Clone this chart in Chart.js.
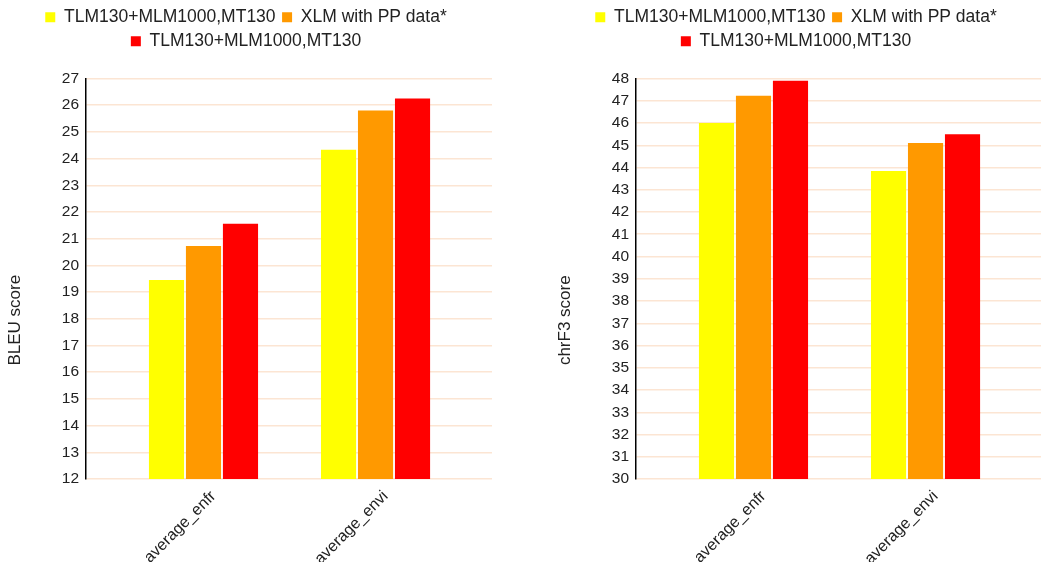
<!DOCTYPE html>
<html>
<head>
<meta charset="utf-8">
<script src="https://cdn.jsdelivr.net/npm/chart.js@4"></script>
<style>
  html, body { margin: 0; padding: 0; background: #fff; overflow: hidden; width: 1041px; height: 562px; }
  .panel { position: absolute; top: 0; width: 500px; height: 562px; }
  #p1 { left: 0; }
  #p2 { left: 550px; }
</style>
</head>
<body>
<div class="panel" id="p1"><canvas id="bleu" width="500" height="562"></canvas></div>
<div class="panel" id="p2"><canvas id="chrf" width="500" height="562"></canvas></div>
<script>
// Language pairs on the x axis
const categories = ['average_enfr', 'average_envi'];

// Systems compared (legend entries) and their colours
const seriesNames = ['TLM130+MLM1000,MT130', 'XLM with PP data*', 'TLM130+MLM1000,MT130'];
const seriesColors = ['#ffff00', '#ff9900', '#ff0000'];

// BLEU scores per system
const bleuTlm   = [19.45, 24.33];
const bleuXlm   = [20.73, 25.80];
const bleuTlmMt = [21.56, 26.25];

// chrF3 scores per system
const chrfTlm   = [46.00, 43.84];
const chrfXlm   = [47.22, 45.10];
const chrfTlmMt = [47.90, 45.49];

// Value-axis ranges
const bleuRange = [12, 27];
const chrfRange = [30, 48];

const FONT = '"Liberation Sans", Arial, Helvetica, sans-serif';
const INK = '#222';

// Rotated y-axis caption, centred on the area below the legend
function yCaption(text) {
  return {
    id: 'yCaption',
    afterDraw(chart) {
      const { ctx, chartArea } = chart;
      ctx.save();
      ctx.font = '17px ' + FONT;
      ctx.fillStyle = INK;
      ctx.textAlign = 'center';
      ctx.textBaseline = 'middle';
      ctx.translate(15, (chartArea.top + chart.height) / 2);
      ctx.rotate(-Math.PI / 2);
      ctx.fillText(text, 0, 0);
      ctx.restore();
    }
  };
}

function buildChart(canvasId, seriesValues, range, caption) {
  const datasets = seriesValues.map((vals, s) => ({
    label: seriesNames[s],
    data: vals.map((v, i) => ({ x: i, y: v })),
    backgroundColor: seriesColors[s],
    borderWidth: 0,
    categoryPercentage: 0.645,
    barPercentage: 0.95
  }));

  return new Chart(document.getElementById(canvasId), {
    type: 'bar',
    data: { datasets },
    plugins: [yCaption(caption)],
    options: {
      responsive: false,
      animation: false,
      devicePixelRatio: 1,
      layout: { padding: { top: 2, right: 8, left: 0, bottom: 0 } },
      plugins: {
        legend: {
          position: 'top',
          labels: {
            boxWidth: 10,
            boxHeight: 10,
            padding: 6.5,
            color: INK,
            font: { family: FONT, size: 17.5 }
          }
        },
        // empty title used as a gap between legend and plot
        title: {
          display: true,
          text: '',
          position: 'top',
          weight: 500,
          font: { size: 1, lineHeight: 1 },
          padding: { top: 17.5, bottom: 0 }
        },
        tooltip: { enabled: false }
      },
      scales: {
        x: {
          type: 'linear',
          min: -0.683,
          max: 1.677,
          offset: false,
          afterBuildTicks(scale) {
            scale.ticks = categories.map((_, i) => ({ value: i }));
          },
          afterFit(scale) { scale.height = 83; },
          grid: { display: false },
          border: { display: false },
          ticks: {
            autoSkip: false,
            minRotation: 45,
            maxRotation: 45,
            padding: 0,
            labelOffset: 10,
            color: INK,
            font: { family: FONT, size: 16 },
            callback: (v) => categories[v] ?? ''
          }
        },
        y: {
          min: range[0],
          max: range[1],
          afterFit(scale) { scale.width = 86; },
          grid: { color: '#fce5d3', lineWidth: 1.5, drawTicks: false },
          border: { display: true, color: '#000', width: 1.5 },
          ticks: {
            stepSize: 1,
            padding: 7,
            color: INK,
            font: { family: FONT, size: 15.5 }
          }
        }
      }
    }
  });
}

buildChart('bleu', [bleuTlm, bleuXlm, bleuTlmMt], bleuRange, 'BLEU score');
buildChart('chrf', [chrfTlm, chrfXlm, chrfTlmMt], chrfRange, 'chrF3 score');
</script>
</body>
</html>
